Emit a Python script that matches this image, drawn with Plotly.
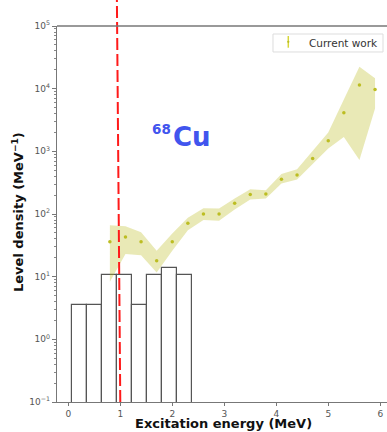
import plotly.graph_objects as go

# Level density of 68Cu from this work (MeV^-1) with its uncertainty band
energy = [0.8, 1.1, 1.4, 1.7, 2.0, 2.3, 2.6, 2.9, 3.2, 3.5, 3.8, 4.1, 4.4, 4.7, 5.0, 5.3, 5.6, 5.9]
rho = [36, 43, 36, 18, 36, 71, 100, 100, 148, 205, 208, 360, 420, 770, 1470, 4110, 11400, 9700]
rho_upper = [66, 64, 51, 26, 49, 87, 123, 122, 177, 248, 240, 433, 520, 1000, 2000, 6700, 22300, 14600]
rho_lower = [8.3, 23, 22, 11.7, 26, 55, 80, 78, 118, 170, 176, 307, 355, 620, 1110, 1700, 724, 4830]

# Discrete known levels, binned
bin_edges = [0.077, 0.364, 0.651, 0.938, 1.225, 1.512, 1.799, 2.086, 2.373]
level_counts = [1, 1, 3, 3, 1, 3, 4, 3]

# Dashed reference line (x at the bottom and at the top)
marker_line_x = [1.0, 0.935]

y_tickvals = [0.1, 1, 10, 100, 1e3, 1e4, 1e5]
y_ticktext = ["10<sup>\u22121</sup>", "10<sup>0</sup>", "10<sup>1</sup>", "10<sup>2</sup>",
              "10<sup>3</sup>", "10<sup>4</sup>", "10<sup>5</sup>"]
x_tickvals = [0, 1, 2, 3, 4, 5, 6]

widths = [b - a for a, b in zip(bin_edges[:-1], bin_edges[1:])]
centers = [(a + b) / 2 for a, b in zip(bin_edges[:-1], bin_edges[1:])]
density = [c / w for c, w in zip(level_counts, widths)]

OLIVE = "#bcbd22"
FONT = "DejaVu Sans"

fig = go.Figure()

fig.add_trace(go.Bar(
    x=centers, y=density, width=widths,
    marker=dict(color="white", line=dict(color="#555555", width=1.2)),
    showlegend=False, hoverinfo="skip",
))

fig.add_trace(go.Scatter(
    x=energy, y=rho_lower, mode="lines", line=dict(width=0, color=OLIVE),
    showlegend=False, hoverinfo="skip",
))
fig.add_trace(go.Scatter(
    x=energy, y=rho_upper, mode="lines", line=dict(width=0, color=OLIVE),
    fill="tonexty", fillcolor="rgba(188,189,34,0.33)",
    showlegend=False, hoverinfo="skip",
))
fig.add_trace(go.Scatter(
    x=energy, y=rho, mode="markers",
    marker=dict(color=OLIVE, size=3.5),
    showlegend=False,
))

# dashed red vertical line
fig.add_shape(type="line", xref="x", yref="paper",
              x0=marker_line_x[0], y0=0, x1=marker_line_x[1], y1=1.07,
              line=dict(color="#ff1a1a", width=2, dash="12px,4px"))

# top spine
fig.add_shape(type="line", xref="paper", yref="paper", x0=0, y0=1, x1=1, y1=1,
              line=dict(color="#777777", width=1.3))

# legend box
fig.add_shape(type="rect", xref="paper", yref="paper",
              x0=0.6545, y0=0.9309, x1=0.9879, y1=0.9787,
              line=dict(color="#dddddd", width=1), fillcolor="white")
fig.add_shape(type="line", xref="paper", yref="paper",
              x0=0.7009, y0=0.9423, x1=0.7009, y1=0.9734,
              line=dict(color="#d6d63a", width=1.5))
fig.add_shape(type="circle", xref="paper", yref="paper",
              x0=0.6975, y0=0.9548, x1=0.7043, y1=0.9610,
              line=dict(width=0), fillcolor=OLIVE)
fig.add_annotation(xref="paper", yref="paper", x=0.7585, y=0.9548,
                   text="Current work", showarrow=False, xanchor="left", yanchor="middle",
                   font=dict(family=FONT, size=10.5, color="#333333"))

# nucleus label
fig.add_annotation(xref="paper", yref="paper", x=(171 - 57) / 330, y=(402 - 137) / 376,
                   text="<b>Cu</b>", showarrow=False, xanchor="left", yanchor="middle",
                   font=dict(family=FONT, size=26, color="#4155ee"))
fig.add_annotation(xref="paper", yref="paper", x=(150 - 57) / 330, y=(402 - 129) / 376,
                   text="<b>68</b>", showarrow=False, xanchor="left", yanchor="middle",
                   font=dict(family=FONT, size=13.5, color="#4155ee"))

# axis titles
fig.add_annotation(xref="paper", yref="paper", x=(223 - 57) / 330, y=-(432 - 402) / 376,
                   text="<b>Excitation energy (MeV)</b>", showarrow=False,
                   xanchor="center", yanchor="bottom", borderpad=0,
                   font=dict(family=FONT, size=13, color="#111111"))
fig.add_annotation(xref="paper", yref="paper", x=(18 - 57) / 330, y=(402 - 212) / 376,
                   text="<b>Level density (MeV<sup>\u22121</sup>)</b>", showarrow=False,
                   textangle=-90, xanchor="center", yanchor="middle",
                   font=dict(family=FONT, size=13, color="#111111"))

minor_vals = [m * 10 ** k for k in range(-1, 5) for m in range(2, 10)]

fig.update_xaxes(
    range=[-0.217, 6.13], tickvals=x_tickvals, ticktext=[str(v) for v in x_tickvals],
    ticks="outside", ticklen=3, tickcolor="#777777", showline=True, linecolor="#777777",
    linewidth=1.3, showgrid=False, zeroline=False,
    tickfont=dict(family=FONT, size=9, color="#555555"),
)
fig.update_yaxes(
    type="log", range=[-1, 5], tickvals=y_tickvals, ticktext=y_ticktext,
    ticks="outside", ticklen=4, tickcolor="#777777", showline=True, linecolor="#777777",
    linewidth=1.3, showgrid=False, zeroline=False,
    tickfont=dict(family=FONT, size=9, color="#555555"),
    minor=dict(tickvals=minor_vals, ticks="outside", ticklen=2, tickcolor="#888888", showgrid=False),
)

fig.update_layout(
    width=387, height=432,
    margin=dict(l=57, r=0, t=26, b=30),
    paper_bgcolor="white", plot_bgcolor="white",
    bargap=0, showlegend=False,
)

fig.write_html("out.html")
